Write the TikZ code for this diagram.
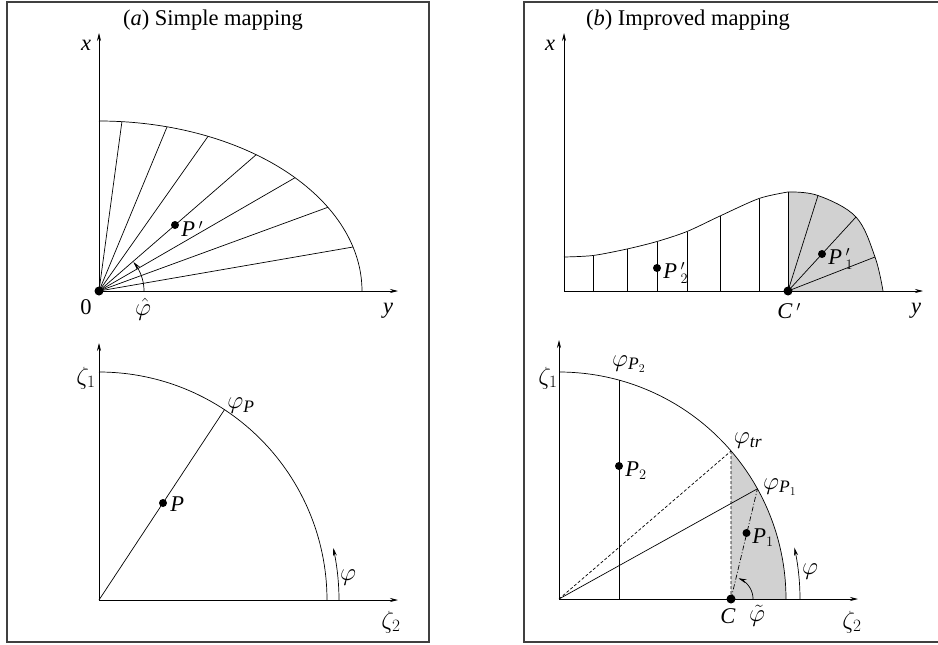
\documentclass[tikz,border=0pt]{standalone}
\usepackage{amsmath}
\usepackage{fontspec}
\setmainfont{Liberation Serif}
\usetikzlibrary{arrows.meta}
\newcommand\mitx[1]{\textit{#1}}
\begin{document}
\begin{tikzpicture}[x=1pt,y=-1pt,
  font=\fontsize{22.5}{27}\selectfont,
  line width=0.7pt,
  ax/.style={-{Stealth[length=8pt,width=4pt]}},
  arr/.style={-{Stealth[length=8pt,width=4pt]}},
  frame/.style={line width=1.4pt, black!75},
  dotc/.style={circle, fill=black, inner sep=0pt, minimum size=9pt},
  dots/.style={circle, fill=black, inner sep=0pt, minimum size=8pt},
  lbl/.style={inner sep=0pt},
  grk/.style={inner sep=0pt, font=\fontsize{25}{30}\selectfont},
  shade/.style={fill=black!18}]
\useasboundingbox (0,0) rectangle (938,645);
\clip (0,0) rectangle (938,645);

% frames
\draw[frame] (7,2) rectangle (429,642);
\draw[frame] (950,2) -- (524,2) -- (524,642) -- (950,642);

% ================= (a) top =================
\node[lbl] (ta) at (213,20) {(\textit{a}) Simple mapping};
\coordinate (O1) at (99,291);
\coordinate (X1) at (99,33);
\coordinate (Y1) at (398,291);
\draw[ax] (O1) -- (X1);
\draw[ax] (O1) -- (Y1);
\draw plot[domain=0:90, samples=80, smooth] ({99+263*cos(\x)},{291-170*sin(\x)});
\foreach \t in {85,75,65.5,53.3,41.8,29.5,15}{
  \coordinate (e) at ({99+263*cos(\t)},{291-170*sin(\t)});
  \draw (O1) -- (e);
}
\draw[arr] plot[domain=0:40, samples=30] ({99+45*cos(\x)},{291-45*sin(\x)});
\node[dotc] (o1dot) at (O1) {};
\node[dots] (Pp) at (175,225) {};
\node[lbl, anchor=west] (Ppl) at (181,229) {$\mitx{P}\,'$};
\node[lbl] (lx1) at (86,45) {\mitx{x}};
\node[lbl] (l01) at (86,307) {0};
\node[grk] (lph) at (143,309) {$\hat{\varphi}$};
\node[lbl] (ly1) at (388,311) {\mitx{y}};

% ================= (a) bottom =================
\coordinate (O2) at (99,600);
\coordinate (Z1a) at (99,343);
\coordinate (Z2a) at (398,600);
\draw[ax] (O2) -- (Z1a);
\draw[ax] (O2) -- (Z2a);
\draw plot[domain=0:90, samples=80, smooth] ({99+228*cos(\x)},{600-228*sin(\x)});
\coordinate (phP) at ({99+228*cos(56.6)},{600-228*sin(56.6)});
\draw (O2) -- (phP);
\node[dots] (P) at (163,503) {};
\node[lbl, anchor=west] (Pl) at (170,504) {\mitx{P}};
\node[grk] (lphP) at (241,406) {$\varphi_{\mitx{P}}$};
\draw[arr] plot[domain=0:12.5, samples=20] ({99+240*cos(\x)},{600-240*sin(\x)});
\node[grk] (lphi1) at (348,578) {$\varphi$};
\node[grk] (lz1a) at (86,378) {$\zeta_1$};
\node[grk] (lz2a) at (391,622) {$\zeta_2$};

% ================= (b) top =================
\node[lbl] (tb) at (688,20) {(\textit{b}) Improved mapping};
\coordinate (O3) at (564,291);
\coordinate (X3) at (564,33);
\coordinate (Y3) at (923,291);
\coordinate (Cp) at (788,291);
\fill[shade] (Cp) -- plot[smooth, tension=0.6] coordinates {(788,192) (818,195.5) (856,217) (875,257) (883,291)} -- cycle;
\draw[ax] (O3) -- (X3);
\draw[ax] (O3) -- (Y3);
\draw plot[smooth] coordinates {(564,257) (593,255.5) (627,249) (657,241.5) (687,231.5) (720,216) (759,198.5) (788,192)};
\draw plot[smooth, tension=0.6] coordinates {(788,192) (818,195.5) (856,217) (875,257) (883,291)};
\foreach \xx/\yy in {593/255.5,627/249,657/241.5,687/231.5,720/216,759/198.5,788/192}{
  \coordinate (b) at (\xx,291);
  \coordinate (t) at (\xx,\yy);
  \draw (b) -- (t);
}
\foreach \xx/\yy in {818/195.5,856/217,875/257}{
  \coordinate (t) at (\xx,\yy);
  \draw (Cp) -- (t);
}
\node[dotc] (cpdot) at (Cp) {};
\node[dots] (P1p) at (822,254) {};
\node[dots] (P2p) at (657,268) {};
\node[lbl, anchor=west] (P1pl) at (828,259) {$\mitx{P}\,'_1$};
\node[lbl, anchor=west] (P2pl) at (663,273) {$\mitx{P}\,'_2$};
\node[lbl] (lCp) at (789,311) {\mitx{C}\,$'$};
\node[lbl] (lx3) at (550,45) {\mitx{x}};
\node[lbl] (ly3) at (916,311) {\mitx{y}};

% ================= (b) bottom =================
\coordinate (O4) at (559,599);
\coordinate (Z1b) at (559,340);
\coordinate (Z2b) at (858,599);
\coordinate (C) at (731,599);
\coordinate (tr) at ({559+227*cos(40.7)},{599-227*sin(40.7)});
\coordinate (pp1) at ({559+227*cos(29.05)},{599-227*sin(29.05)});
\coordinate (pp2b) at (619,599);
\coordinate (pp2t) at (619,380.1);
\fill[shade] (C) -- (tr) -- plot[domain=40.7:0, samples=40, smooth] ({559+227*cos(\x)},{599-227*sin(\x)}) -- cycle;
\draw[ax] (O4) -- (Z1b);
\draw[ax] (O4) -- (Z2b);
\draw plot[domain=0:90, samples=80, smooth] ({559+227*cos(\x)},{599-227*sin(\x)});
\draw (pp2b) -- (pp2t);
\draw[dash pattern=on 3pt off 2pt] (C) -- (tr);
\draw[dash pattern=on 3pt off 2pt] (O4) -- (tr);
\draw (O4) -- (pp1);
\draw[dash pattern=on 5pt off 2pt on 1pt off 2pt] (C) -- (pp1);
\draw[arr] plot[domain=0:70, samples=20] ({731+22*cos(\x)},{599-22*sin(\x)});
\draw[arr] plot[domain=0:12.3, samples=20] ({559+241*cos(\x)},{599-241*sin(\x)});
\node[dotc] (cdot) at (C) {};
\node[dots] (P2) at (619,466) {};
\node[dots] (P1) at (746.5,533) {};
\node[lbl, anchor=west] (P2l) at (625,471) {$\mitx{P}_2$};
\node[lbl, anchor=west] (P1l) at (752,538) {$\mitx{P}_1$};
\node[grk] (lphP2) at (629,364) {$\varphi_{\mitx{P}_2}$};
\node[grk] (lphtr) at (748,441) {$\varphi_{\mitx{tr}}$};
\node[grk] (lphP1) at (780,487) {$\varphi_{\mitx{P}_1}$};
\node[lbl] (lC) at (728,616) {\mitx{C}};
\node[grk] (lpht) at (757,616) {$\tilde{\varphi}$};
\node[grk] (lphi2) at (810,572) {$\varphi$};
\node[grk] (lz1b) at (548,378) {$\zeta_1$};
\node[grk] (lz2b) at (852,622) {$\zeta_2$};
\end{tikzpicture}
\end{document}
